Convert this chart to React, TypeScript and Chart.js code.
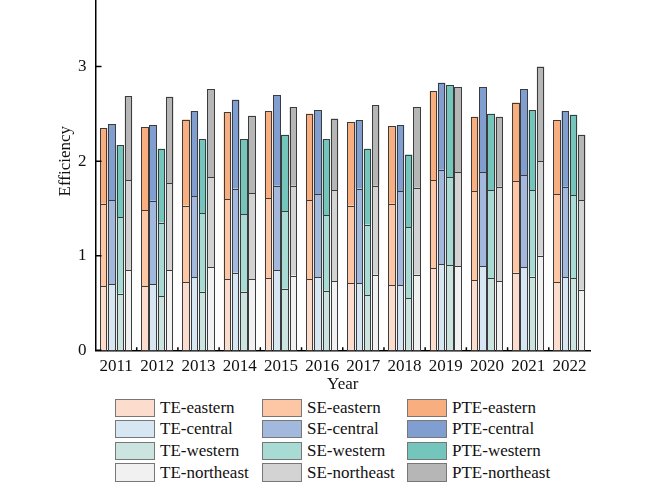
import { useEffect, useRef } from "react";
import { Chart, registerables } from "chart.js";

Chart.register(...registerables);

const years = ["2011", "2012", "2013", "2014", "2015", "2016", "2017", "2018", "2019", "2020", "2021", "2022"];

// segment heights (stacked TE -> SE -> PTE)
const teEastern = [0.68, 0.68, 0.72, 0.75, 0.76, 0.75, 0.71, 0.69, 0.87, 0.74, 0.82, 0.72];
const seEastern = [0.87, 0.8, 0.81, 0.85, 0.85, 0.84, 0.82, 0.86, 0.93, 0.94, 0.97, 0.93];
const pteEastern = [0.8, 0.88, 0.91, 0.92, 0.92, 0.91, 0.88, 0.82, 0.94, 0.79, 0.83, 0.78];

const teCentral = [0.7, 0.7, 0.77, 0.82, 0.85, 0.77, 0.71, 0.69, 0.91, 0.89, 0.88, 0.77];
const seCentral = [0.89, 0.88, 0.86, 0.89, 0.89, 0.88, 1.0, 0.99, 1.0, 0.99, 0.97, 0.96];
const pteCentral = [0.8, 0.8, 0.9, 0.94, 0.96, 0.89, 0.72, 0.7, 0.92, 0.9, 0.91, 0.8];

const teWestern = [0.6, 0.57, 0.62, 0.62, 0.65, 0.63, 0.58, 0.55, 0.9, 0.76, 0.78, 0.76];
const seWestern = [0.81, 0.78, 0.83, 0.82, 0.82, 0.8, 0.75, 0.75, 0.93, 0.93, 0.91, 0.88];
const pteWestern = [0.76, 0.78, 0.78, 0.79, 0.81, 0.8, 0.8, 0.77, 0.97, 0.81, 0.85, 0.85];

const teNortheast = [0.85, 0.85, 0.88, 0.75, 0.79, 0.73, 0.8, 0.8, 0.89, 0.73, 1.0, 0.64];
const seNortheast = [0.95, 0.92, 0.95, 0.91, 0.95, 0.96, 0.94, 0.92, 0.99, 1.0, 1.0, 0.95];
const pteNortheast = [0.89, 0.91, 0.93, 0.82, 0.83, 0.76, 0.85, 0.85, 0.9, 0.74, 1.0, 0.69];

const yTicks = [0, 1, 2, 3];

const FONT = '"Liberation Serif", "Times New Roman", serif';

const series = [
  { label: "TE-eastern", stack: "eastern", data: teEastern, color: "#fcdccd" },
  { label: "TE-central", stack: "central", data: teCentral, color: "#d6e6f2" },
  { label: "TE-western", stack: "western", data: teWestern, color: "#cbe4df" },
  { label: "TE-northeast", stack: "northeast", data: teNortheast, color: "#f1f1f1" },
  { label: "SE-eastern", stack: "eastern", data: seEastern, color: "#fdc7a5" },
  { label: "SE-central", stack: "central", data: seCentral, color: "#a3b8dd" },
  { label: "SE-western", stack: "western", data: seWestern, color: "#a7dbd3" },
  { label: "SE-northeast", stack: "northeast", data: seNortheast, color: "#d3d3d3" },
  { label: "PTE-eastern", stack: "eastern", data: pteEastern, color: "#f9ae80" },
  { label: "PTE-central", stack: "central", data: pteCentral, color: "#809fd0" },
  { label: "PTE-western", stack: "western", data: pteWestern, color: "#74c6bd" },
  { label: "PTE-northeast", stack: "northeast", data: pteNortheast, color: "#b6b6b6" }
];

// crisp outlines round every bar segment, taken from the bar elements
const barOutlines = {
  id: "barOutlines",
  afterDatasetsDraw(chart: any) {
    const { ctx } = chart;
    ctx.save();
    ctx.strokeStyle = "#3c3c3c";
    ctx.lineWidth = 1;
    chart.data.datasets.forEach((_: any, i: number) => {
      chart.getDatasetMeta(i).data.forEach((el: any) => {
        const { x, y, base, width } = el.getProps(["x", "y", "base", "width"], true);
        const l = Math.round(x - width / 2) + 0.5;
        const r = Math.round(x + width / 2) - 0.5;
        const t = Math.round(y) + 0.5;
        const b = Math.round(base) + 0.5;
        ctx.strokeRect(l, t, r - l, b - t);
      });
    });
    ctx.restore();
  }
};

// inward tick marks on both axes
const innerTicks = {
  id: "innerTicks",
  afterDraw(chart: any) {
    const { ctx, chartArea, scales } = chart;
    const x = scales.x;
    const y = scales.y;
    ctx.save();
    ctx.strokeStyle = "#000";
    ctx.lineWidth = 1.5;
    ctx.beginPath();
    yTicks.forEach((v) => {
      const py = y.getPixelForValue(v);
      ctx.moveTo(chartArea.left, py);
      ctx.lineTo(chartArea.left + 6, py);
    });
    for (let i = 1; i < years.length; i++) {
      const px = (x.getPixelForValue(i - 1) + x.getPixelForValue(i)) / 2;
      ctx.moveTo(px, chartArea.bottom);
      ctx.lineTo(px, chartArea.bottom - 3);
    }
    ctx.stroke();
    ctx.restore();
  }
};

const legendRows = [
  ["TE-eastern", "SE-eastern", "PTE-eastern"],
  ["TE-central", "SE-central", "PTE-central"],
  ["TE-western", "SE-western", "PTE-western"],
  ["TE-northeast", "SE-northeast", "PTE-northeast"]
];
const legendCols = [115, 262, 407];

export default function App() {
  const canvasRef = useRef<HTMLCanvasElement | null>(null);

  useEffect(() => {
    if (!canvasRef.current) return;
    const chart = new Chart(canvasRef.current, {
      type: "bar",
      data: {
        labels: years,
        datasets: series.map((s) => ({
          label: s.label,
          stack: s.stack,
          data: s.data,
          backgroundColor: s.color,
          borderWidth: 0,
          inflateAmount: 0,
          barPercentage: 0.9,
          categoryPercentage: 0.8
        }))
      },
      options: {
        responsive: false,
        animation: false,
        layout: { padding: { top: 30, right: 79, left: 0, bottom: 0 } },
        plugins: {
          legend: { display: false },
          tooltip: { enabled: false }
        },
        scales: {
          x: {
            stacked: true,
            grid: { display: false, drawTicks: false },
            border: { display: true, color: "#000", width: 1.5 },
            ticks: { color: "#111", padding: 6, font: { family: FONT, size: 17 } },
            title: {
              display: true,
              text: "Year",
              color: "#111",
              padding: { top: 0, bottom: 0 },
              font: { family: FONT, size: 17 }
            },
            afterFit: (scale: any) => {
              scale.height = 44.7;
            }
          },
          y: {
            stacked: true,
            min: 0,
            max: 4,
            grid: { display: false, drawTicks: false },
            border: { display: true, color: "#000", width: 1.5 },
            ticks: { stepSize: 1, color: "#111", padding: 9, font: { family: FONT, size: 17 } },
            afterBuildTicks: (scale: any) => {
              scale.ticks = yTicks.map((v) => ({ value: v }));
            },
            title: {
              display: true,
              text: "Efficiency",
              color: "#111",
              padding: { top: 55, bottom: 0 },
              font: { family: FONT, size: 17 }
            },
            afterFit: (scale: any) => {
              scale.width = 95.5;
            }
          }
        }
      },
      plugins: [barOutlines, innerTicks]
    });
    return () => chart.destroy();
  }, []);

  const colorOf = (label: string) => series.find((s) => s.label === label)?.color;

  return (
    <div style={{ position: "fixed", left: 0, top: 0, width: 669, height: 488, overflow: "hidden", background: "#fff" }}>
      <canvas
        ref={canvasRef}
        width={669}
        height={453}
        style={{ position: "absolute", left: 0, top: -57.6, width: 669, height: 453 }}
      />
      {legendRows.map((row, r) =>
        row.map((label, c) => (
          <div
            key={label}
            style={{
              position: "absolute",
              left: legendCols[c],
              top: 398.5 + r * 21.6,
              height: 18.4,
              display: "flex",
              alignItems: "center",
              fontFamily: FONT,
              fontSize: 17,
              color: "#111",
              whiteSpace: "nowrap"
            }}
          >
            <span
              style={{
                display: "inline-block",
                width: 38,
                height: 16.4,
                background: colorOf(label),
                border: "1px solid #777",
                marginRight: 5
              }}
            />
            <span>{label}</span>
          </div>
        ))
      )}
    </div>
  );
}
